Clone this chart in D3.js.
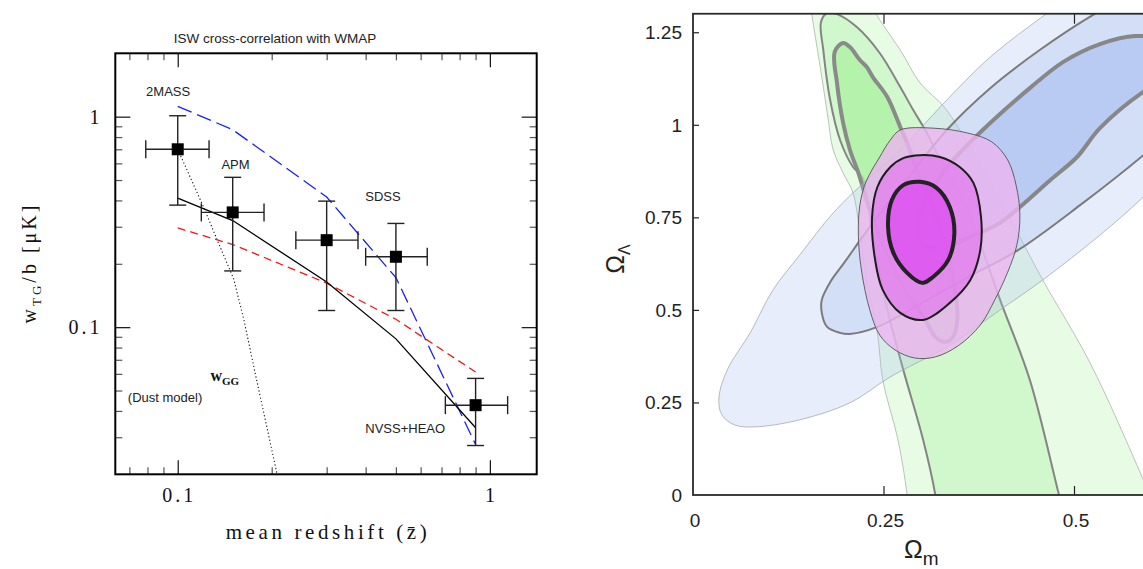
<!DOCTYPE html>
<html>
<head>
<meta charset="utf-8">
<title>ISW cross-correlation with WMAP</title>
<style>
  body { margin: 0; background: #fff; }
  svg { display: block; }
  .serif { font-family: "Liberation Serif", "Times New Roman", serif; }
  .sans { font-family: "Liberation Sans", Arial, sans-serif; }
  .narrow { font-family: "Liberation Sans Narrow", "Liberation Sans", Arial, sans-serif; }
</style>
</head>
<body>
<svg></svg>
<script src="https://d3js.org/d3.v7.min.js"></script>
<script>
// ---------- left panel: ISW cross-correlation points ----------
const surveyNames = ["2MASS", "APM", "SDSS", "SDSS", "NVSS+HEAO"]
const zMean = [0.1, 0.15, 0.3, 0.5, 0.9]
const zLow  = [0.079, 0.119, 0.239, 0.40, 0.72]
const zHigh = [0.126, 0.189, 0.378, 0.63, 1.14]
const wMean = [0.70, 0.351, 0.259, 0.216, 0.0426]
const wLow  = [0.38, 0.185, 0.12, 0.12, 0.0274]
const wHigh = [1.01, 0.515, 0.397, 0.311, 0.0571]

// model curves, evaluated at the survey redshifts
const modelZ     = [0.1, 0.15, 0.3, 0.5, 0.9]
const modelSolid = [0.41, 0.321, 0.164, 0.088, 0.0333]
const modelRed   = [0.296, 0.247, 0.162, 0.109, 0.0612]
const modelBlue  = [1.12, 0.867, 0.415, 0.172, 0.0277]

// w_GG dust model (dotted)
const dustZ = [0.1, 0.121, 0.134, 0.151, 0.163, 0.179, 0.208]
const dustW = [0.70, 0.372, 0.258, 0.170, 0.108, 0.056, 0.0201]

// ticks
const xMajor = [0.1, 1]
const xMinor = [0.07, 0.08, 0.09, 0.2, 0.3, 0.4, 0.5, 0.6, 0.7, 0.8, 0.9]
const yMajor = [0.1, 1]
const yMinor = [0.03, 0.04, 0.05, 0.06, 0.07, 0.08, 0.09, 0.2, 0.3, 0.4, 0.5, 0.6, 0.7, 0.8, 0.9]
const xMajorLabels = ["0.1", "1"]
const yMajorLabels = ["0.1", "1"]

// text labels inside the plot (z, w)
const noteText = ["2MASS", "APM", "SDSS", "NVSS+HEAO", "(Dust model)"]
const noteZ = [0.0792, 0.138, 0.399, 0.399, 0.0692]
const noteW = [1.249, 0.562, 0.396, 0.0314, 0.0441]

// ---------- right panel: Omega_m / Omega_Lambda contours ----------
const omTicks = [0, 0.25, 0.5]
const omLabels = ["0", "0.25", "0.5"]
const olTicks = [0, 0.25, 0.5, 0.75, 1, 1.25]
const olLabels = ["0", "0.25", "0.5", "0.75", "1", "1.25"]

const greenOuter = [[0.152,1.364],[0.156,1.297],[0.167,1.156],[0.177,1.021],[0.184,0.932],[0.197,0.870],[0.210,0.816],[0.219,0.708],[0.228,0.573],[0.242,0.438],[0.249,0.311],[0.269,0.149],[0.281,0.0],[0.29,-0.2],
  [0.64,-0.2],[0.591,0.041],[0.521,0.357],[0.459,0.581],[0.403,0.797],[0.360,0.951],[0.331,1.045],[0.298,1.113],[0.272,1.202],[0.245,1.283],[0.219,1.364]]
const greenMid = [[0.168,1.278],[0.171,1.202],[0.180,1.067],[0.193,0.959],[0.210,0.886],[0.222,0.859],[0.235,0.716],[0.252,0.527],[0.276,0.338],[0.302,0.149],[0.318,0.0],[0.33,-0.2],
  [0.505,-0.2],[0.480,0.003],[0.442,0.311],[0.403,0.527],[0.370,0.716],[0.337,0.864],[0.320,0.924],[0.307,0.978],[0.289,1.040],[0.272,1.102],[0.245,1.194],[0.215,1.264],[0.189,1.299],[0.176,1.302]]
const greenInner = [[0.197,1.221],[0.206,1.210],[0.219,1.175],[0.228,1.156],[0.236,1.129],[0.255,1.075],[0.272,0.994],[0.281,0.951],[0.294,0.878],[0.314,0.783],[0.331,0.675],[0.343,0.567],[0.347,0.478],[0.341,0.427],[0.331,0.413],[0.318,0.427],[0.305,0.473],[0.278,0.554],[0.252,0.662],[0.232,0.770],[0.217,0.870],[0.206,0.932],[0.197,1.005],[0.189,1.113],[0.186,1.197]]

const blueOuter = [[0.034,0.262],[0.045,0.338],[0.075,0.438],[0.105,0.554],[0.140,0.648],[0.184,0.762],[0.228,0.851],[0.272,0.932],[0.328,1.056],[0.390,1.183],[0.465,1.302],[0.534,1.405],[0.640,1.44],[0.705,1.30],[0.710,1.10],[0.665,0.959],[0.591,0.805],[0.534,0.702],[0.459,0.581],[0.403,0.500],[0.337,0.405],[0.259,0.319],[0.206,0.249],[0.140,0.203],[0.081,0.184],[0.055,0.189],[0.038,0.216]]
const blueMid = [[0.169,0.492],[0.176,0.454],[0.193,0.438],[0.206,0.435],[0.242,0.454],[0.298,0.516],[0.364,0.592],[0.427,0.662],[0.508,0.783],[0.591,0.918],[0.665,1.053],[0.705,1.229],[0.679,1.364],[0.600,1.38],[0.525,1.297],[0.455,1.202],[0.390,1.099],[0.333,0.986],[0.272,0.829],[0.227,0.710],[0.199,0.629],[0.180,0.575],[0.169,0.527]]
const blueInner = [[0.294,0.716],[0.298,0.762],[0.307,0.797],[0.328,0.870],[0.350,0.924],[0.390,1.005],[0.442,1.099],[0.486,1.170],[0.534,1.218],[0.580,1.240],[0.613,1.229],[0.633,1.180],[0.619,1.121],[0.591,1.089],[0.534,0.991],[0.504,0.913],[0.469,0.851],[0.429,0.778],[0.403,0.735],[0.367,0.700],[0.328,0.670],[0.302,0.675]]

const combOuter = [[0.272,0.986],[0.315,0.991],[0.360,0.978],[0.392,0.954],[0.413,0.905],[0.424,0.837],[0.429,0.756],[0.425,0.675],[0.413,0.602],[0.396,0.527],[0.377,0.459],[0.348,0.403],[0.318,0.373],[0.291,0.370],[0.265,0.392],[0.245,0.432],[0.232,0.500],[0.221,0.608],[0.217,0.702],[0.219,0.783],[0.227,0.846],[0.245,0.913],[0.259,0.959]]
const combMid = [[0.298,0.918],[0.324,0.913],[0.350,0.886],[0.368,0.843],[0.378,0.751],[0.377,0.662],[0.364,0.581],[0.337,0.519],[0.302,0.473],[0.272,0.492],[0.249,0.554],[0.239,0.635],[0.235,0.751],[0.242,0.832],[0.259,0.886],[0.276,0.910]]
const combInner = [[0.298,0.846],[0.320,0.829],[0.337,0.778],[0.343,0.708],[0.335,0.635],[0.315,0.589],[0.301,0.573],[0.281,0.600],[0.263,0.654],[0.256,0.724],[0.261,0.797],[0.276,0.837]]

// ---------- canvas ----------
var _svg = d3.select("svg").attr("width", 1143).attr("height", 569)
_svg.append("rect").attr("width", 1143).attr("height", 569).attr("fill", "#fff")
var defs = _svg.append("defs")

// inward ticks drawn with d3 axes
function addTicks(axis, tx, ty, vals, len, color) {
  var g = _svg.append("g")
    .attr("transform", "translate(" + tx + "," + ty + ")")
    .call(axis.tickValues(vals).tickSize(-len).tickSizeOuter(0).tickFormat(""))
  g.select(".domain").remove()
  g.selectAll("text").remove()
  g.selectAll("line").attr("stroke", color).attr("stroke-width", 1.2)
  return g
}

// ================= LEFT PANEL =================
var x = d3.scaleLog().domain([Math.pow(10, -1.2), Math.pow(10, 0.15)]).range([115.3, 536.7])
var y = d3.scaleLog().domain([0.02, 2]).range([474.3, 53.3])
var L = { x0: 115.3, x1: 536.7, y0: 53.3, y1: 474.3 }

defs.append("clipPath").attr("id", "clipL").append("rect")
  .attr("x", L.x0).attr("y", L.y0).attr("width", L.x1 - L.x0).attr("height", L.y1 - L.y0)

// ticks
addTicks(d3.axisBottom(x), 0, L.y1, xMinor, 7, "#555")
addTicks(d3.axisBottom(x), 0, L.y1, xMajor, 14, "#111")
addTicks(d3.axisTop(x), 0, L.y0, xMinor, 7, "#555")
addTicks(d3.axisTop(x), 0, L.y0, xMajor, 14, "#111")
addTicks(d3.axisLeft(y), L.x0, 0, yMinor, 7, "#555")
addTicks(d3.axisLeft(y), L.x0, 0, yMajor, 15, "#111")
addTicks(d3.axisRight(y), L.x1, 0, yMinor, 7, "#555")
addTicks(d3.axisRight(y), L.x1, 0, yMajor, 15, "#111")

// model lines
var plotL = _svg.append("g").attr("clip-path", "url(#clipL)")
var lineL = d3.line().x(d => x(d[0])).y(d => y(d[1]))

plotL.append("path").datum(d3.zip(dustZ, dustW)).attr("d", lineL)
  .attr("fill", "none").attr("stroke", "#111").attr("stroke-width", 1.1).attr("stroke-dasharray", "1.2,2.4")
plotL.append("path").datum(d3.zip(modelZ, modelRed)).attr("d", lineL)
  .attr("fill", "none").attr("stroke", "#f01818").attr("stroke-width", 1.3).attr("stroke-dasharray", "8,5")
plotL.append("path").datum(d3.zip(modelZ, modelBlue)).attr("d", lineL)
  .attr("fill", "none").attr("stroke", "#1a22ee").attr("stroke-width", 1.3).attr("stroke-dasharray", "15,6")
plotL.append("path").datum(d3.zip(modelZ, modelSolid)).attr("d", lineL)
  .attr("fill", "none").attr("stroke", "#000").attr("stroke-width", 1.3)

// data points with error bars
var pts = _svg.append("g").selectAll("g").data(d3.range(zMean.length)).join("g")
  .attr("stroke", "#222").attr("stroke-width", 1.4)
pts.each(function(i) {
  var g = d3.select(this)
  var cx = x(zMean[i]), cy = y(wMean[i])
  g.append("line").attr("x1", cx).attr("x2", cx).attr("y1", y(wLow[i])).attr("y2", y(wHigh[i]))
  g.append("line").attr("x1", cx - 8.5).attr("x2", cx + 8.5).attr("y1", y(wLow[i])).attr("y2", y(wLow[i]))
  g.append("line").attr("x1", cx - 8.5).attr("x2", cx + 8.5).attr("y1", y(wHigh[i])).attr("y2", y(wHigh[i]))
  g.append("line").attr("x1", x(zLow[i])).attr("x2", x(zHigh[i])).attr("y1", cy).attr("y2", cy)
  g.append("line").attr("x1", x(zLow[i])).attr("x2", x(zLow[i])).attr("y1", cy - 9).attr("y2", cy + 9)
  g.append("line").attr("x1", x(zHigh[i])).attr("x2", x(zHigh[i])).attr("y1", cy - 9).attr("y2", cy + 9)
  g.append("rect").attr("x", cx - 6).attr("y", cy - 6).attr("width", 12).attr("height", 12)
    .attr("fill", "#000").attr("stroke", "none")
})

// frame
_svg.append("rect").attr("x", L.x0).attr("y", L.y0).attr("width", L.x1 - L.x0).attr("height", L.y1 - L.y0)
  .attr("fill", "none").attr("stroke", "#000").attr("stroke-width", 2)

// title and notes
_svg.append("text").attr("class", "sans").attr("x", 275).attr("y", 43).attr("text-anchor", "middle")
  .style("font-size", "13.5px").attr("fill", "#222").text("ISW cross-correlation with WMAP")
_svg.append("g").selectAll("text").data(d3.range(noteText.length)).join("text")
  .attr("class", "sans").attr("x", i => x(noteZ[i])).attr("y", i => y(noteW[i]))
  .style("font-size", "13px").attr("fill", "#222").text(i => noteText[i])

var wgg = _svg.append("text").attr("class", "serif").attr("x", x(0.1273)).attr("y", y(0.0553))
  .style("font-size", "16px").style("font-weight", "bold").attr("fill", "#111")
wgg.append("tspan").text("w")
wgg.append("tspan").attr("dy", 4).style("font-size", "11px").text("GG")

// tick labels
_svg.append("g").selectAll("text").data(xMajor).join("text")
  .attr("class", "serif").attr("x", d => x(d) + 1.5).attr("y", 501.7).attr("text-anchor", "middle")
  .style("font-size", "20px").style("letter-spacing", "3px").attr("fill", "#111")
  .text((d, i) => xMajorLabels[i])
_svg.append("g").selectAll("text").data(yMajor).join("text")
  .attr("class", "serif").attr("x", 102.5).attr("y", d => y(d) + 7).attr("text-anchor", "end")
  .style("font-size", "20px").style("letter-spacing", "3px").attr("fill", "#111")
  .text((d, i) => yMajorLabels[i])

// axis titles
_svg.append("text").attr("class", "serif").attr("x", 328).attr("y", 539.3).attr("text-anchor", "middle")
  .style("font-size", "21px").style("letter-spacing", "3.6px").attr("fill", "#111")
  .text("mean redshift (z\u0304)")
var yl = _svg.append("text").attr("class", "serif").attr("transform", "translate(35.5,263) rotate(-90)")
  .attr("text-anchor", "middle").style("font-size", "20px").style("letter-spacing", "3px").attr("fill", "#111")
yl.append("tspan").text("w")
yl.append("tspan").attr("dy", 5).style("font-size", "13px").text("TG")
yl.append("tspan").attr("dy", -5).text("/b [\u03bcK]")

// ================= RIGHT PANEL =================
var xR = d3.scaleLinear().domain([0, 0.62]).range([693, 693 + 0.62 * 762])
var yR = d3.scaleLinear().domain([0, 1.3]).range([495, 495 - 1.3 * 370.2])

defs.append("clipPath").attr("id", "clipR").append("rect")
  .attr("x", xR(0)).attr("y", yR(1.3)).attr("width", 520).attr("height", yR(0) - yR(1.3))

var plotR = _svg.append("g").attr("clip-path", "url(#clipR)")
var contour = d3.line().x(d => xR(d[0])).y(d => yR(d[1])).curve(d3.curveCatmullRomClosed.alpha(0.5))

function addContour(pts, fill, opacity, stroke, width) {
  plotR.append("path").datum(pts).attr("d", contour)
    .attr("fill", fill).attr("fill-opacity", opacity)
    .attr("stroke", stroke).attr("stroke-width", width).attr("stroke-linejoin", "round")
}

// green band
addContour(greenOuter, "rgb(170,240,160)", 0.27, "#a9b5a9", 0.8)
addContour(greenMid,   "rgb(170,240,160)", 0.36, "#858585", 2)
addContour(greenInner, "rgb(170,240,160)", 0.72, "#8a8a8a", 4)
// blue ellipse
addContour(blueOuter, "rgb(170,190,240)", 0.28, "#a7a9b3", 0.8)
addContour(blueMid,   "rgb(170,190,240)", 0.33, "#7b7b7b", 2)
addContour(blueInner, "rgb(170,190,240)", 0.63, "#878787", 4)
// combined
addContour(combOuter, "rgb(236,180,239)", 0.8, "#555", 0.9)
addContour(combMid,   "rgb(227,118,238)", 0.7, "#1c1c1c", 2)
addContour(combInner, "rgb(222,76,240)", 0.75, "#222", 4)

// ticks
addTicks(d3.axisLeft(yR), xR(0), 0, olTicks.slice(1), 6, "#222")
addTicks(d3.axisBottom(xR), 0, yR(0), omTicks.slice(1), 9, "#222")
addTicks(d3.axisTop(xR), 0, yR(1.3), omTicks.slice(1), 10, "#222")

// frame (right edge falls outside the picture)
_svg.append("rect").attr("x", xR(0)).attr("y", yR(1.3)).attr("width", 520).attr("height", yR(0) - yR(1.3))
  .attr("fill", "none").attr("stroke", "#2a2a2a").attr("stroke-width", 1.8)

// tick labels
_svg.append("g").selectAll("text").data(olTicks).join("text")
  .attr("class", "narrow").attr("x", 682).attr("y", d => yR(d)).attr("dy", "0.36em")
  .attr("text-anchor", "end").style("font-size", "19px").attr("fill", "#222")
  .text((d, i) => olLabels[i])
_svg.append("g").selectAll("text").data(omTicks).join("text")
  .attr("class", "narrow").attr("x", d => xR(d) + 2).attr("y", 527)
  .attr("text-anchor", "middle").style("font-size", "19px").attr("fill", "#222")
  .text((d, i) => omLabels[i])

// axis titles
var ol = _svg.append("text").attr("class", "sans").attr("transform", "translate(624,259) rotate(-90)")
  .attr("text-anchor", "middle").style("font-size", "25px").attr("fill", "#222")
ol.append("tspan").text("\u03a9")
ol.append("tspan").attr("dy", 6).style("font-size", "16px").text("\u039b")
var om = _svg.append("text").attr("class", "sans").attr("x", 904).attr("y", 558)
  .style("font-size", "25px").attr("fill", "#222")
om.append("tspan").text("\u03a9")
om.append("tspan").attr("class", "narrow").attr("dy", 7).style("font-size", "19px").text("m")
</script>
</body>
</html>
